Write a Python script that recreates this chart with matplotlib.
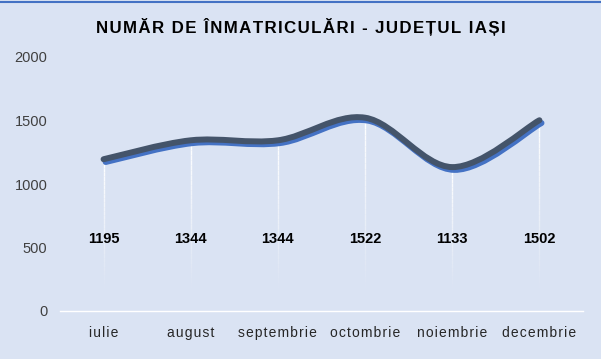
import numpy as np
import matplotlib
matplotlib.use('Agg')
import matplotlib.pyplot as plt
from matplotlib.path import Path
from matplotlib.patches import PathPatch
import matplotlib.patheffects as pe

months = ['iulie', 'august', 'septembrie', 'octombrie', 'noiembrie', 'decembrie']
values = [1195, 1344, 1344, 1522, 1133, 1502]
title = 'NUMĂR DE ÎNMATRICULĂRI - JUDEȚUL IAȘI'

BG = '#DAE3F3'
LINE = '#44546A'
SHADOW = '#4472C4'


def spaced(s):
    return '\u200a'.join(s)


def smooth_path(xs, ys):
    # excel-like smoothed line: catmull-rom as cubic bezier
    pts = np.column_stack([xs, ys]).astype(float)
    ext = np.vstack([pts[0], pts, pts[-1]])
    verts = [pts[0]]
    codes = [Path.MOVETO]
    for i in range(len(pts) - 1):
        p0, p1, p2, p3 = ext[i], ext[i + 1], ext[i + 2], ext[i + 3]
        verts += [p1 + (p2 - p0) / 6, p2 - (p3 - p1) / 6, p2]
        codes += [Path.CURVE4] * 3
    return Path(verts, codes)


fig = plt.figure(figsize=(6.01, 3.59), dpi=100)
fig.patch.set_facecolor(BG)
ax = fig.add_axes([60 / 601, 48 / 359, 523 / 601, 254 / 359])
ax.set_facecolor(BG)

x = np.arange(len(months))

# fading drop lines
for xi, v in zip(x, values):
    n = 30
    ys = np.linspace(v, 180, n + 1)
    for k in range(n):
        ax.plot([xi, xi], [ys[k], ys[k + 1]], color='white', lw=1,
                alpha=1 - k / n, zorder=1, solid_capstyle='butt')

patch = PathPatch(smooth_path(x, values), facecolor='none', edgecolor=LINE,
                  lw=4.3, capstyle='round', zorder=3)
patch.set_path_effects([pe.SimpleLineShadow(offset=(1.5, -2), shadow_color=SHADOW, alpha=1),
                        pe.Normal()])
ax.add_patch(patch)

for xi, v in zip(x, values):
    ax.text(xi, 565, str(v), ha='center', va='center', fontsize=10.5, fontweight='bold',
            family='Liberation Sans', color='black', zorder=4)

ax.set_xlim(-0.5, 5.5)
ax.set_ylim(0, 2000)
ax.set_yticks([0, 500, 1000, 1500, 2000])
ax.set_xticks(x)
ax.set_xticklabels([spaced(m) for m in months], family=['Liberation Sans', 'DejaVu Sans'],
                   fontsize=10, color='#262626')
for lab in ax.get_yticklabels():
    lab.set_family('Liberation Sans')
    lab.set_fontsize(10.5)
    lab.set_color('#404040')
ax.tick_params(axis='x', length=0, pad=11)
ax.tick_params(axis='y', length=0, pad=9)
for s in ['top', 'right', 'left']:
    ax.spines[s].set_visible(False)
ax.spines['bottom'].set_color('white')
ax.spines['bottom'].set_linewidth(1)

fig.text(0.5, 1 - 27 / 359, spaced(title), ha='center', va='center', fontsize=12.2,
         fontweight='bold', family=['Liberation Sans', 'DejaVu Sans'], color='black')
fig.add_artist(plt.Line2D([0, 1], [1 - 1.5 / 359] * 2, color=SHADOW, lw=1.5,
                          transform=fig.transFigure))

fig.savefig('out.png', dpi=100, facecolor=BG)
